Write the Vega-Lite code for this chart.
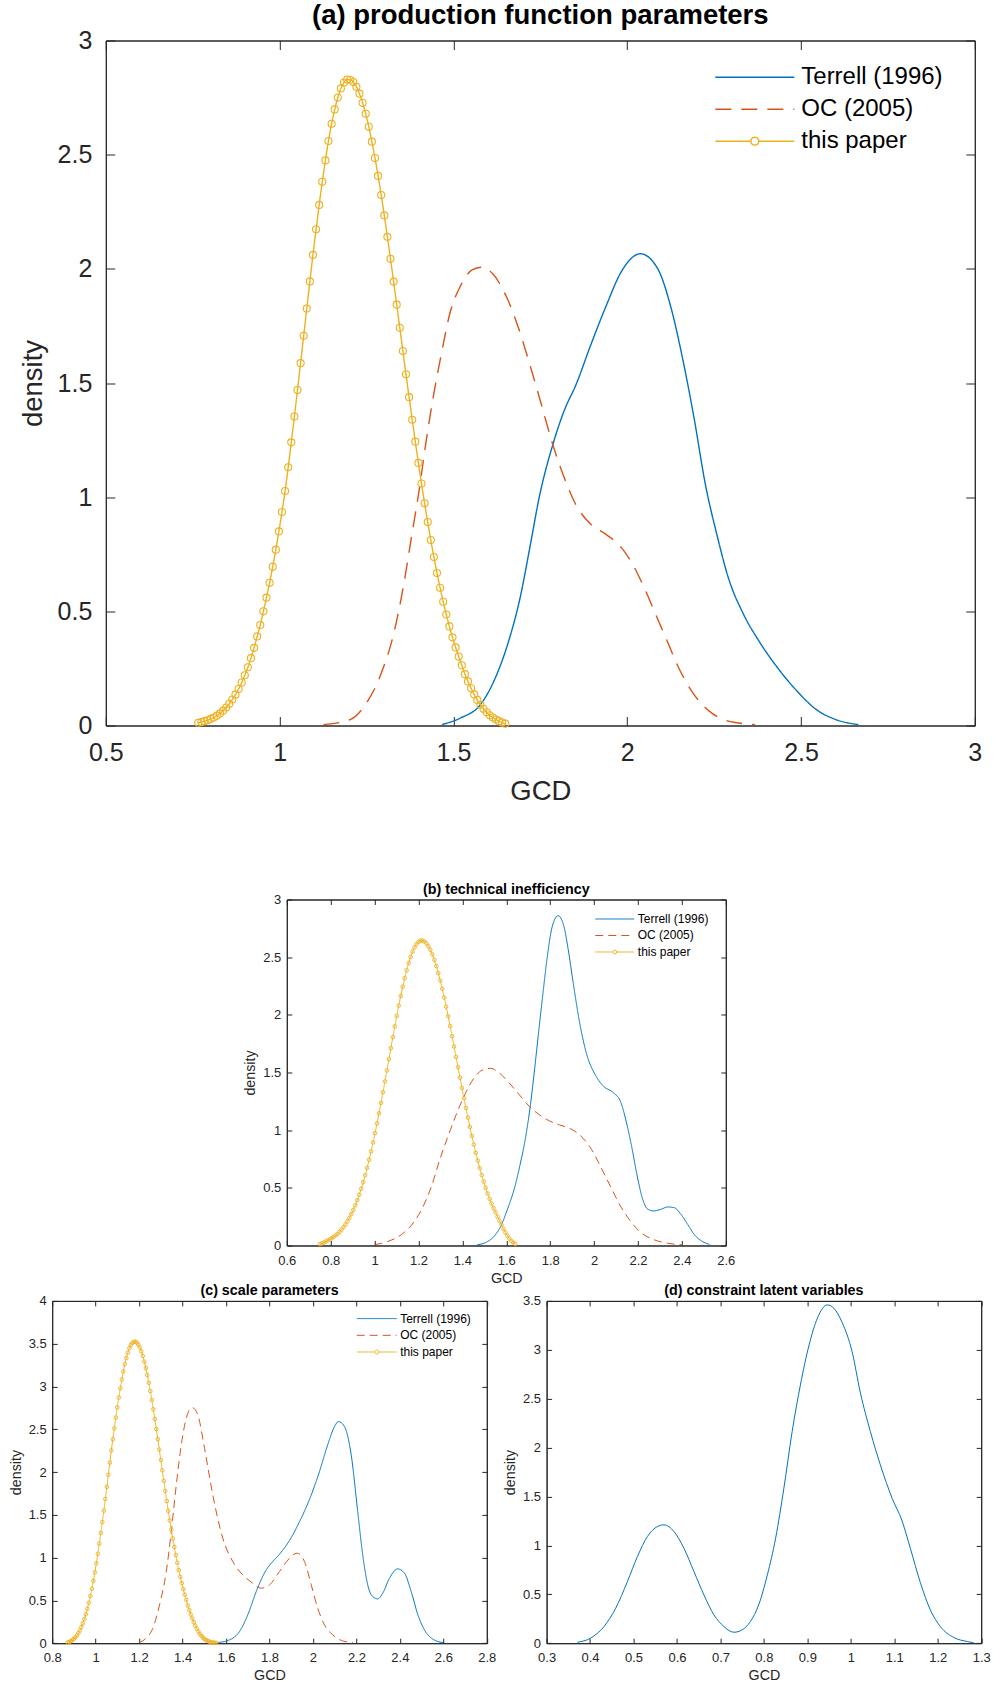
{
"$schema": "https://vega.github.io/schema/vega-lite/v6.json",
"background": "white",
"padding": {"left": 1.8, "top": 1.5, "right": 0, "bottom": 0},
"config": {
  "font": "Liberation Sans",
  "view": {"stroke": "#262626", "strokeWidth": 1},
  "axis": {"grid": false, "domainColor": "#262626", "tickColor": "#262626", "labelColor": "#262626", "titleColor": "#262626", "labelFont": "Liberation Sans", "titleFont": "Liberation Sans", "titleFontWeight": "normal", "labelFlush": false, "labelOverlap": false, "domainWidth": 1, "tickWidth": 1},
  "legend": {"labelFont": "Liberation Sans", "labelColor": "#000000"},
  "title": {"font": "Liberation Sans", "fontWeight": "bold", "color": "#000000", "anchor": "middle", "frame": "group"}
},
"datasets": {
"a": [
{"series":"Terrell (1996)","gcd":1.467,"density":0.004},{"series":"Terrell (1996)","gcd":1.522,"density":0.034},{"series":"Terrell (1996)","gcd":1.577,"density":0.09},{"series":"Terrell (1996)","gcd":1.621,"density":0.21},{"series":"Terrell (1996)","gcd":1.659,"density":0.37},{"series":"Terrell (1996)","gcd":1.692,"density":0.56},{"series":"Terrell (1996)","gcd":1.72,"density":0.78},{"series":"Terrell (1996)","gcd":1.747,"density":1.0},{"series":"Terrell (1996)","gcd":1.786,"density":1.23},{"series":"Terrell (1996)","gcd":1.819,"density":1.38},{"series":"Terrell (1996)","gcd":1.852,"density":1.49},{"series":"Terrell (1996)","gcd":1.896,"density":1.67},{"series":"Terrell (1996)","gcd":1.94,"density":1.84},{"series":"Terrell (1996)","gcd":1.984,"density":1.99},{"series":"Terrell (1996)","gcd":2.038,"density":2.066},{"series":"Terrell (1996)","gcd":2.088,"density":2.0},{"series":"Terrell (1996)","gcd":2.126,"density":1.83},{"series":"Terrell (1996)","gcd":2.159,"density":1.61},{"series":"Terrell (1996)","gcd":2.192,"density":1.35},{"series":"Terrell (1996)","gcd":2.225,"density":1.055},{"series":"Terrell (1996)","gcd":2.258,"density":0.836},{"series":"Terrell (1996)","gcd":2.291,"density":0.647},{"series":"Terrell (1996)","gcd":2.335,"density":0.486},{"series":"Terrell (1996)","gcd":2.379,"density":0.37},{"series":"Terrell (1996)","gcd":2.434,"density":0.25},{"series":"Terrell (1996)","gcd":2.489,"density":0.15},{"series":"Terrell (1996)","gcd":2.544,"density":0.07},{"series":"Terrell (1996)","gcd":2.6,"density":0.026},{"series":"Terrell (1996)","gcd":2.665,"density":0.004},
{"series":"OC (2005)","gcd":1.126,"density":0.004},{"series":"OC (2005)","gcd":1.203,"density":0.026},{"series":"OC (2005)","gcd":1.247,"density":0.092},{"series":"OC (2005)","gcd":1.291,"density":0.223},{"series":"OC (2005)","gcd":1.33,"density":0.413},{"series":"OC (2005)","gcd":1.357,"density":0.617},{"series":"OC (2005)","gcd":1.379,"density":0.822},{"series":"OC (2005)","gcd":1.401,"density":1.026},{"series":"OC (2005)","gcd":1.423,"density":1.26},{"series":"OC (2005)","gcd":1.445,"density":1.464},{"series":"OC (2005)","gcd":1.467,"density":1.64},{"series":"OC (2005)","gcd":1.489,"density":1.8},{"series":"OC (2005)","gcd":1.522,"density":1.93},{"series":"OC (2005)","gcd":1.555,"density":1.997},{"series":"OC (2005)","gcd":1.582,"density":2.007},{"series":"OC (2005)","gcd":1.615,"density":1.975},{"series":"OC (2005)","gcd":1.654,"density":1.873},{"series":"OC (2005)","gcd":1.687,"density":1.742},{"series":"OC (2005)","gcd":1.72,"density":1.58},{"series":"OC (2005)","gcd":1.753,"density":1.406},{"series":"OC (2005)","gcd":1.786,"density":1.23},{"series":"OC (2005)","gcd":1.819,"density":1.085},{"series":"OC (2005)","gcd":1.852,"density":0.968},{"series":"OC (2005)","gcd":1.896,"density":0.88},{"series":"OC (2005)","gcd":1.94,"density":0.836},{"series":"OC (2005)","gcd":1.984,"density":0.778},{"series":"OC (2005)","gcd":2.016,"density":0.705},{"series":"OC (2005)","gcd":2.049,"density":0.603},{"series":"OC (2005)","gcd":2.082,"density":0.486},{"series":"OC (2005)","gcd":2.115,"density":0.37},{"series":"OC (2005)","gcd":2.148,"density":0.253},{"series":"OC (2005)","gcd":2.192,"density":0.136},{"series":"OC (2005)","gcd":2.236,"density":0.063},{"series":"OC (2005)","gcd":2.291,"density":0.019},{"series":"OC (2005)","gcd":2.368,"density":0.004},
{"series":"this paper","gcd":0.766,"density":0.012},{"series":"this paper","gcd":0.7749,"density":0.015},{"series":"this paper","gcd":0.7838,"density":0.019},{"series":"this paper","gcd":0.7928,"density":0.023},{"series":"this paper","gcd":0.8017,"density":0.029},{"series":"this paper","gcd":0.8106,"density":0.035},{"series":"this paper","gcd":0.8195,"density":0.043},{"series":"this paper","gcd":0.8284,"density":0.053},{"series":"this paper","gcd":0.8374,"density":0.065},{"series":"this paper","gcd":0.8463,"density":0.079},{"series":"this paper","gcd":0.8552,"density":0.095},{"series":"this paper","gcd":0.8641,"density":0.114},{"series":"this paper","gcd":0.873,"density":0.135},{"series":"this paper","gcd":0.882,"density":0.16},{"series":"this paper","gcd":0.8909,"density":0.188},{"series":"this paper","gcd":0.8998,"density":0.22},{"series":"this paper","gcd":0.9087,"density":0.255},{"series":"this paper","gcd":0.9176,"density":0.295},{"series":"this paper","gcd":0.9266,"density":0.34},{"series":"this paper","gcd":0.9355,"density":0.39},{"series":"this paper","gcd":0.9444,"density":0.44},{"series":"this paper","gcd":0.9533,"density":0.5},{"series":"this paper","gcd":0.9622,"density":0.56},{"series":"this paper","gcd":0.9712,"density":0.625},{"series":"this paper","gcd":0.9801,"density":0.695},{"series":"this paper","gcd":0.989,"density":0.77},{"series":"this paper","gcd":0.9979,"density":0.85},{"series":"this paper","gcd":1.0068,"density":0.935},{"series":"this paper","gcd":1.0158,"density":1.027},{"series":"this paper","gcd":1.0247,"density":1.131},{"series":"this paper","gcd":1.0336,"density":1.24},{"series":"this paper","gcd":1.0425,"density":1.353},{"series":"this paper","gcd":1.0514,"density":1.469},{"series":"this paper","gcd":1.0604,"density":1.587},{"series":"this paper","gcd":1.0693,"density":1.707},{"series":"this paper","gcd":1.0782,"density":1.826},{"series":"this paper","gcd":1.0871,"density":1.945},{"series":"this paper","gcd":1.096,"density":2.061},{"series":"this paper","gcd":1.105,"density":2.173},{"series":"this paper","gcd":1.1139,"density":2.28},{"series":"this paper","gcd":1.1228,"density":2.381},{"series":"this paper","gcd":1.1317,"density":2.475},{"series":"this paper","gcd":1.1406,"density":2.56},{"series":"this paper","gcd":1.1496,"density":2.635},{"series":"this paper","gcd":1.1585,"density":2.698},{"series":"this paper","gcd":1.1674,"density":2.75},{"series":"this paper","gcd":1.1763,"density":2.79},{"series":"this paper","gcd":1.1852,"density":2.816},{"series":"this paper","gcd":1.1942,"density":2.829},{"series":"this paper","gcd":1.2031,"density":2.828},{"series":"this paper","gcd":1.212,"density":2.818},{"series":"this paper","gcd":1.2209,"density":2.797},{"series":"this paper","gcd":1.2298,"density":2.767},{"series":"this paper","gcd":1.2388,"density":2.727},{"series":"this paper","gcd":1.2477,"density":2.679},{"series":"this paper","gcd":1.2566,"density":2.622},{"series":"this paper","gcd":1.2655,"density":2.557},{"series":"this paper","gcd":1.2744,"density":2.485},{"series":"this paper","gcd":1.2834,"density":2.407},{"series":"this paper","gcd":1.2923,"density":2.323},{"series":"this paper","gcd":1.3012,"density":2.234},{"series":"this paper","gcd":1.3101,"density":2.14},{"series":"this paper","gcd":1.319,"density":2.044},{"series":"this paper","gcd":1.328,"density":1.944},{"series":"this paper","gcd":1.3369,"density":1.843},{"series":"this paper","gcd":1.3458,"density":1.742},{"series":"this paper","gcd":1.3547,"density":1.64},{"series":"this paper","gcd":1.3636,"density":1.538},{"series":"this paper","gcd":1.3726,"density":1.438},{"series":"this paper","gcd":1.3815,"density":1.339},{"series":"this paper","gcd":1.3904,"density":1.243},{"series":"this paper","gcd":1.3993,"density":1.15},{"series":"this paper","gcd":1.4082,"density":1.06},{"series":"this paper","gcd":1.4172,"density":0.973},{"series":"this paper","gcd":1.4261,"density":0.891},{"series":"this paper","gcd":1.435,"density":0.812},{"series":"this paper","gcd":1.4439,"density":0.738},{"series":"this paper","gcd":1.4528,"density":0.668},{"series":"this paper","gcd":1.4618,"density":0.603},{"series":"this paper","gcd":1.4707,"density":0.542},{"series":"this paper","gcd":1.4796,"density":0.486},{"series":"this paper","gcd":1.4885,"density":0.434},{"series":"this paper","gcd":1.4974,"density":0.386},{"series":"this paper","gcd":1.5064,"density":0.342},{"series":"this paper","gcd":1.5153,"density":0.302},{"series":"this paper","gcd":1.5242,"density":0.264},{"series":"this paper","gcd":1.5331,"density":0.225},{"series":"this paper","gcd":1.542,"density":0.193},{"series":"this paper","gcd":1.551,"density":0.163},{"series":"this paper","gcd":1.5599,"density":0.136},{"series":"this paper","gcd":1.5688,"density":0.112},{"series":"this paper","gcd":1.5777,"density":0.091},{"series":"this paper","gcd":1.5866,"density":0.073},{"series":"this paper","gcd":1.5956,"density":0.058},{"series":"this paper","gcd":1.6045,"density":0.045},{"series":"this paper","gcd":1.6134,"density":0.035},{"series":"this paper","gcd":1.6223,"density":0.026},{"series":"this paper","gcd":1.6312,"density":0.019},{"series":"this paper","gcd":1.6402,"density":0.013},{"series":"this paper","gcd":1.6491,"density":0.008}
],
"b": [
{"series":"Terrell (1996)","gcd":1.467,"density":0.006},{"series":"Terrell (1996)","gcd":1.506,"density":0.026},{"series":"Terrell (1996)","gcd":1.544,"density":0.079},{"series":"Terrell (1996)","gcd":1.575,"density":0.167},{"series":"Terrell (1996)","gcd":1.605,"density":0.313},{"series":"Terrell (1996)","gcd":1.636,"density":0.489},{"series":"Terrell (1996)","gcd":1.662,"density":0.694},{"series":"Terrell (1996)","gcd":1.687,"density":0.928},{"series":"Terrell (1996)","gcd":1.71,"density":1.22},{"series":"Terrell (1996)","gcd":1.728,"density":1.513},{"series":"Terrell (1996)","gcd":1.748,"density":1.864},{"series":"Terrell (1996)","gcd":1.767,"density":2.186},{"series":"Terrell (1996)","gcd":1.787,"density":2.508},{"series":"Terrell (1996)","gcd":1.81,"density":2.771},{"series":"Terrell (1996)","gcd":1.836,"density":2.859},{"series":"Terrell (1996)","gcd":1.862,"density":2.771},{"series":"Terrell (1996)","gcd":1.882,"density":2.567},{"series":"Terrell (1996)","gcd":1.905,"density":2.274},{"series":"Terrell (1996)","gcd":1.935,"density":1.923},{"series":"Terrell (1996)","gcd":1.966,"density":1.659},{"series":"Terrell (1996)","gcd":2.004,"density":1.484},{"series":"Terrell (1996)","gcd":2.043,"density":1.381},{"series":"Terrell (1996)","gcd":2.089,"density":1.323},{"series":"Terrell (1996)","gcd":2.12,"density":1.25},{"series":"Terrell (1996)","gcd":2.15,"density":1.045},{"series":"Terrell (1996)","gcd":2.173,"density":0.84},{"series":"Terrell (1996)","gcd":2.196,"density":0.606},{"series":"Terrell (1996)","gcd":2.219,"density":0.416},{"series":"Terrell (1996)","gcd":2.242,"density":0.319},{"series":"Terrell (1996)","gcd":2.27,"density":0.3},{"series":"Terrell (1996)","gcd":2.304,"density":0.313},{"series":"Terrell (1996)","gcd":2.335,"density":0.334},{"series":"Terrell (1996)","gcd":2.365,"density":0.328},{"series":"Terrell (1996)","gcd":2.396,"density":0.269},{"series":"Terrell (1996)","gcd":2.427,"density":0.181},{"series":"Terrell (1996)","gcd":2.457,"density":0.094},{"series":"Terrell (1996)","gcd":2.488,"density":0.041},{"series":"Terrell (1996)","gcd":2.526,"density":0.009},
{"series":"OC (2005)","gcd":0.999,"density":0.006},{"series":"OC (2005)","gcd":1.06,"density":0.035},{"series":"OC (2005)","gcd":1.122,"density":0.094},{"series":"OC (2005)","gcd":1.176,"density":0.196},{"series":"OC (2005)","gcd":1.222,"density":0.342},{"series":"OC (2005)","gcd":1.26,"density":0.518},{"series":"OC (2005)","gcd":1.298,"density":0.752},{"series":"OC (2005)","gcd":1.337,"density":0.96},{"series":"OC (2005)","gcd":1.375,"density":1.15},{"series":"OC (2005)","gcd":1.414,"density":1.32},{"series":"OC (2005)","gcd":1.452,"density":1.45},{"series":"OC (2005)","gcd":1.49,"density":1.52},{"series":"OC (2005)","gcd":1.529,"density":1.536},{"series":"OC (2005)","gcd":1.567,"density":1.498},{"series":"OC (2005)","gcd":1.613,"density":1.41},{"series":"OC (2005)","gcd":1.659,"density":1.308},{"series":"OC (2005)","gcd":1.705,"density":1.206},{"series":"OC (2005)","gcd":1.751,"density":1.133},{"series":"OC (2005)","gcd":1.797,"density":1.08},{"series":"OC (2005)","gcd":1.843,"density":1.045},{"series":"OC (2005)","gcd":1.889,"density":1.016},{"series":"OC (2005)","gcd":1.935,"density":0.957},{"series":"OC (2005)","gcd":1.981,"density":0.855},{"series":"OC (2005)","gcd":2.027,"density":0.694},{"series":"OC (2005)","gcd":2.073,"density":0.518},{"series":"OC (2005)","gcd":2.12,"density":0.342},{"series":"OC (2005)","gcd":2.166,"density":0.211},{"series":"OC (2005)","gcd":2.212,"density":0.114},{"series":"OC (2005)","gcd":2.273,"density":0.05},{"series":"OC (2005)","gcd":2.334,"density":0.02},{"series":"OC (2005)","gcd":2.403,"density":0.006},
{"series":"this paper","gcd":0.75,"density":0.012},{"series":"this paper","gcd":0.759,"density":0.018},{"series":"this paper","gcd":0.768,"density":0.025},{"series":"this paper","gcd":0.777,"density":0.034},{"series":"this paper","gcd":0.786,"density":0.044},{"series":"this paper","gcd":0.795,"density":0.053},{"series":"this paper","gcd":0.804,"density":0.063},{"series":"this paper","gcd":0.813,"density":0.074},{"series":"this paper","gcd":0.822,"density":0.087},{"series":"this paper","gcd":0.831,"density":0.101},{"series":"this paper","gcd":0.84,"density":0.118},{"series":"this paper","gcd":0.849,"density":0.137},{"series":"this paper","gcd":0.858,"density":0.158},{"series":"this paper","gcd":0.867,"density":0.182},{"series":"this paper","gcd":0.876,"density":0.209},{"series":"this paper","gcd":0.885,"density":0.239},{"series":"this paper","gcd":0.894,"density":0.272},{"series":"this paper","gcd":0.903,"density":0.308},{"series":"this paper","gcd":0.912,"density":0.348},{"series":"this paper","gcd":0.921,"density":0.392},{"series":"this paper","gcd":0.93,"density":0.44},{"series":"this paper","gcd":0.939,"density":0.492},{"series":"this paper","gcd":0.948,"density":0.549},{"series":"this paper","gcd":0.957,"density":0.609},{"series":"this paper","gcd":0.966,"density":0.674},{"series":"this paper","gcd":0.975,"density":0.743},{"series":"this paper","gcd":0.984,"density":0.816},{"series":"this paper","gcd":0.993,"density":0.893},{"series":"this paper","gcd":1.002,"density":0.974},{"series":"this paper","gcd":1.011,"density":1.058},{"series":"this paper","gcd":1.02,"density":1.146},{"series":"this paper","gcd":1.029,"density":1.236},{"series":"this paper","gcd":1.038,"density":1.328},{"series":"this paper","gcd":1.047,"density":1.423},{"series":"this paper","gcd":1.056,"density":1.518},{"series":"this paper","gcd":1.065,"density":1.615},{"series":"this paper","gcd":1.074,"density":1.711},{"series":"this paper","gcd":1.083,"density":1.806},{"series":"this paper","gcd":1.092,"density":1.9},{"series":"this paper","gcd":1.101,"density":1.991},{"series":"this paper","gcd":1.11,"density":2.08},{"series":"this paper","gcd":1.119,"density":2.164},{"series":"this paper","gcd":1.128,"density":2.244},{"series":"this paper","gcd":1.137,"density":2.318},{"series":"this paper","gcd":1.146,"density":2.386},{"series":"this paper","gcd":1.155,"density":2.448},{"series":"this paper","gcd":1.164,"density":2.502},{"series":"this paper","gcd":1.173,"density":2.548},{"series":"this paper","gcd":1.182,"density":2.585},{"series":"this paper","gcd":1.191,"density":2.614},{"series":"this paper","gcd":1.2,"density":2.633},{"series":"this paper","gcd":1.209,"density":2.644},{"series":"this paper","gcd":1.218,"density":2.644},{"series":"this paper","gcd":1.227,"density":2.636},{"series":"this paper","gcd":1.236,"density":2.62},{"series":"this paper","gcd":1.245,"density":2.596},{"series":"this paper","gcd":1.254,"density":2.564},{"series":"this paper","gcd":1.263,"density":2.524},{"series":"this paper","gcd":1.272,"density":2.477},{"series":"this paper","gcd":1.281,"density":2.423},{"series":"this paper","gcd":1.29,"density":2.363},{"series":"this paper","gcd":1.299,"density":2.297},{"series":"this paper","gcd":1.308,"density":2.226},{"series":"this paper","gcd":1.317,"density":2.15},{"series":"this paper","gcd":1.326,"density":2.071},{"series":"this paper","gcd":1.335,"density":1.988},{"series":"this paper","gcd":1.344,"density":1.902},{"series":"this paper","gcd":1.353,"density":1.814},{"series":"this paper","gcd":1.362,"density":1.725},{"series":"this paper","gcd":1.371,"density":1.635},{"series":"this paper","gcd":1.38,"density":1.545},{"series":"this paper","gcd":1.389,"density":1.455},{"series":"this paper","gcd":1.398,"density":1.366},{"series":"this paper","gcd":1.407,"density":1.278},{"series":"this paper","gcd":1.416,"density":1.193},{"series":"this paper","gcd":1.425,"density":1.109},{"series":"this paper","gcd":1.434,"density":1.028},{"series":"this paper","gcd":1.443,"density":0.95},{"series":"this paper","gcd":1.452,"density":0.875},{"series":"this paper","gcd":1.461,"density":0.804},{"series":"this paper","gcd":1.47,"density":0.736},{"series":"this paper","gcd":1.479,"density":0.671},{"series":"this paper","gcd":1.488,"density":0.611},{"series":"this paper","gcd":1.497,"density":0.554},{"series":"this paper","gcd":1.506,"density":0.5},{"series":"this paper","gcd":1.515,"density":0.451},{"series":"this paper","gcd":1.524,"density":0.405},{"series":"this paper","gcd":1.533,"density":0.363},{"series":"this paper","gcd":1.542,"density":0.324},{"series":"this paper","gcd":1.551,"density":0.288},{"series":"this paper","gcd":1.56,"density":0.25},{"series":"this paper","gcd":1.569,"density":0.215},{"series":"this paper","gcd":1.578,"density":0.18},{"series":"this paper","gcd":1.587,"density":0.145},{"series":"this paper","gcd":1.596,"density":0.113},{"series":"this paper","gcd":1.605,"density":0.085},{"series":"this paper","gcd":1.614,"density":0.06},{"series":"this paper","gcd":1.623,"density":0.04},{"series":"this paper","gcd":1.632,"density":0.025},{"series":"this paper","gcd":1.641,"density":0.013}
],
"c": [
{"series":"Terrell (1996)","gcd":1.562,"density":0.008},{"series":"Terrell (1996)","gcd":1.616,"density":0.039},{"series":"Terrell (1996)","gcd":1.662,"density":0.136},{"series":"Terrell (1996)","gcd":1.7,"density":0.331},{"series":"Terrell (1996)","gcd":1.739,"density":0.604},{"series":"Terrell (1996)","gcd":1.785,"density":0.857},{"series":"Terrell (1996)","gcd":1.808,"density":0.935},{"series":"Terrell (1996)","gcd":1.846,"density":1.04},{"series":"Terrell (1996)","gcd":1.892,"density":1.2},{"series":"Terrell (1996)","gcd":1.938,"density":1.42},{"series":"Terrell (1996)","gcd":1.984,"density":1.68},{"series":"Terrell (1996)","gcd":2.03,"density":2.006},{"series":"Terrell (1996)","gcd":2.068,"density":2.32},{"series":"Terrell (1996)","gcd":2.099,"density":2.53},{"series":"Terrell (1996)","gcd":2.117,"density":2.59},{"series":"Terrell (1996)","gcd":2.145,"density":2.532},{"series":"Terrell (1996)","gcd":2.176,"density":2.2},{"series":"Terrell (1996)","gcd":2.206,"density":1.538},{"series":"Terrell (1996)","gcd":2.229,"density":1.032},{"series":"Terrell (1996)","gcd":2.252,"density":0.682},{"series":"Terrell (1996)","gcd":2.275,"density":0.545},{"series":"Terrell (1996)","gcd":2.298,"density":0.518},{"series":"Terrell (1996)","gcd":2.321,"density":0.584},{"series":"Terrell (1996)","gcd":2.352,"density":0.759},{"series":"Terrell (1996)","gcd":2.39,"density":0.868},{"series":"Terrell (1996)","gcd":2.421,"density":0.818},{"series":"Terrell (1996)","gcd":2.452,"density":0.604},{"series":"Terrell (1996)","gcd":2.483,"density":0.331},{"series":"Terrell (1996)","gcd":2.513,"density":0.156},{"series":"Terrell (1996)","gcd":2.552,"density":0.047},{"series":"Terrell (1996)","gcd":2.605,"density":0.004},
{"series":"OC (2005)","gcd":1.199,"density":0.008},{"series":"OC (2005)","gcd":1.232,"density":0.058},{"series":"OC (2005)","gcd":1.263,"density":0.175},{"series":"OC (2005)","gcd":1.294,"density":0.448},{"series":"OC (2005)","gcd":1.325,"density":0.837},{"series":"OC (2005)","gcd":1.348,"density":1.305},{"series":"OC (2005)","gcd":1.371,"density":1.85},{"series":"OC (2005)","gcd":1.394,"density":2.317},{"series":"OC (2005)","gcd":1.417,"density":2.629},{"series":"OC (2005)","gcd":1.444,"density":2.754},{"series":"OC (2005)","gcd":1.47,"density":2.668},{"series":"OC (2005)","gcd":1.501,"density":2.278},{"series":"OC (2005)","gcd":1.539,"density":1.733},{"series":"OC (2005)","gcd":1.585,"density":1.227},{"series":"OC (2005)","gcd":1.631,"density":0.954},{"series":"OC (2005)","gcd":1.677,"density":0.798},{"series":"OC (2005)","gcd":1.723,"density":0.701},{"series":"OC (2005)","gcd":1.762,"density":0.643},{"series":"OC (2005)","gcd":1.8,"density":0.682},{"series":"OC (2005)","gcd":1.846,"density":0.837},{"series":"OC (2005)","gcd":1.892,"density":0.993},{"series":"OC (2005)","gcd":1.927,"density":1.052},{"series":"OC (2005)","gcd":1.961,"density":0.954},{"series":"OC (2005)","gcd":1.992,"density":0.682},{"series":"OC (2005)","gcd":2.022,"density":0.409},{"series":"OC (2005)","gcd":2.053,"density":0.214},{"series":"OC (2005)","gcd":2.091,"density":0.097},{"series":"OC (2005)","gcd":2.137,"density":0.027},{"series":"OC (2005)","gcd":2.183,"density":0.008},
{"series":"this paper","gcd":0.872,"density":0.01},{"series":"this paper","gcd":0.8789,"density":0.016},{"series":"this paper","gcd":0.8858,"density":0.024},{"series":"this paper","gcd":0.8927,"density":0.035},{"series":"this paper","gcd":0.8996,"density":0.05},{"series":"this paper","gcd":0.9065,"density":0.068},{"series":"this paper","gcd":0.9134,"density":0.09},{"series":"this paper","gcd":0.9203,"density":0.117},{"series":"this paper","gcd":0.9272,"density":0.149},{"series":"this paper","gcd":0.9341,"density":0.187},{"series":"this paper","gcd":0.941,"density":0.231},{"series":"this paper","gcd":0.9479,"density":0.281},{"series":"this paper","gcd":0.9548,"density":0.338},{"series":"this paper","gcd":0.9617,"density":0.402},{"series":"this paper","gcd":0.9686,"density":0.473},{"series":"this paper","gcd":0.9755,"density":0.551},{"series":"this paper","gcd":0.9824,"density":0.636},{"series":"this paper","gcd":0.9893,"density":0.728},{"series":"this paper","gcd":0.9962,"density":0.827},{"series":"this paper","gcd":1.0031,"density":0.933},{"series":"this paper","gcd":1.01,"density":1.045},{"series":"this paper","gcd":1.0169,"density":1.163},{"series":"this paper","gcd":1.0238,"density":1.287},{"series":"this paper","gcd":1.0307,"density":1.416},{"series":"this paper","gcd":1.0376,"density":1.549},{"series":"this paper","gcd":1.0445,"density":1.686},{"series":"this paper","gcd":1.0514,"density":1.826},{"series":"this paper","gcd":1.0583,"density":1.968},{"series":"this paper","gcd":1.0652,"density":2.11},{"series":"this paper","gcd":1.0721,"density":2.252},{"series":"this paper","gcd":1.079,"density":2.383},{"series":"this paper","gcd":1.0859,"density":2.511},{"series":"this paper","gcd":1.0928,"density":2.636},{"series":"this paper","gcd":1.0997,"density":2.756},{"series":"this paper","gcd":1.1066,"density":2.871},{"series":"this paper","gcd":1.1135,"density":2.98},{"series":"this paper","gcd":1.1204,"density":3.082},{"series":"this paper","gcd":1.1273,"density":3.175},{"series":"this paper","gcd":1.1342,"density":3.259},{"series":"this paper","gcd":1.1411,"density":3.332},{"series":"this paper","gcd":1.148,"density":3.395},{"series":"this paper","gcd":1.1549,"density":3.446},{"series":"this paper","gcd":1.1618,"density":3.485},{"series":"this paper","gcd":1.1687,"density":3.51},{"series":"this paper","gcd":1.1756,"density":3.523},{"series":"this paper","gcd":1.1825,"density":3.524},{"series":"this paper","gcd":1.1894,"density":3.512},{"series":"this paper","gcd":1.1963,"density":3.489},{"series":"this paper","gcd":1.2032,"density":3.455},{"series":"this paper","gcd":1.2101,"density":3.41},{"series":"this paper","gcd":1.217,"density":3.355},{"series":"this paper","gcd":1.2239,"density":3.29},{"series":"this paper","gcd":1.2308,"density":3.216},{"series":"this paper","gcd":1.2377,"density":3.133},{"series":"this paper","gcd":1.2446,"density":3.043},{"series":"this paper","gcd":1.2515,"density":2.946},{"series":"this paper","gcd":1.2584,"density":2.842},{"series":"this paper","gcd":1.2653,"density":2.733},{"series":"this paper","gcd":1.2722,"density":2.62},{"series":"this paper","gcd":1.2791,"density":2.503},{"series":"this paper","gcd":1.286,"density":2.384},{"series":"this paper","gcd":1.2929,"density":2.263},{"series":"this paper","gcd":1.2998,"density":2.141},{"series":"this paper","gcd":1.3067,"density":2.019},{"series":"this paper","gcd":1.3136,"density":1.898},{"series":"this paper","gcd":1.3205,"density":1.779},{"series":"this paper","gcd":1.3274,"density":1.661},{"series":"this paper","gcd":1.3343,"density":1.547},{"series":"this paper","gcd":1.3412,"density":1.435},{"series":"this paper","gcd":1.3481,"density":1.327},{"series":"this paper","gcd":1.355,"density":1.224},{"series":"this paper","gcd":1.3619,"density":1.124},{"series":"this paper","gcd":1.3688,"density":1.03},{"series":"this paper","gcd":1.3757,"density":0.94},{"series":"this paper","gcd":1.3826,"density":0.855},{"series":"this paper","gcd":1.3895,"density":0.776},{"series":"this paper","gcd":1.3964,"density":0.701},{"series":"this paper","gcd":1.4033,"density":0.632},{"series":"this paper","gcd":1.4102,"density":0.568},{"series":"this paper","gcd":1.4171,"density":0.508},{"series":"this paper","gcd":1.424,"density":0.44},{"series":"this paper","gcd":1.4309,"density":0.385},{"series":"this paper","gcd":1.4378,"density":0.335},{"series":"this paper","gcd":1.4447,"density":0.29},{"series":"this paper","gcd":1.4516,"density":0.245},{"series":"this paper","gcd":1.4585,"density":0.205},{"series":"this paper","gcd":1.4654,"density":0.17},{"series":"this paper","gcd":1.4723,"density":0.138},{"series":"this paper","gcd":1.4792,"density":0.11},{"series":"this paper","gcd":1.4861,"density":0.087},{"series":"this paper","gcd":1.493,"density":0.067},{"series":"this paper","gcd":1.4999,"density":0.051},{"series":"this paper","gcd":1.5068,"density":0.038},{"series":"this paper","gcd":1.5137,"density":0.028},{"series":"this paper","gcd":1.5206,"density":0.02},{"series":"this paper","gcd":1.5275,"density":0.014},{"series":"this paper","gcd":1.5344,"density":0.01},{"series":"this paper","gcd":1.5413,"density":0.007},{"series":"this paper","gcd":1.5482,"density":0.005},{"series":"this paper","gcd":1.5551,"density":0.004}
],
"d": [
{"series":"Terrell (1996)","gcd":0.371,"density":0.01},{"series":"Terrell (1996)","gcd":0.401,"density":0.051},{"series":"Terrell (1996)","gcd":0.432,"density":0.17},{"series":"Terrell (1996)","gcd":0.459,"density":0.358},{"series":"Terrell (1996)","gcd":0.486,"density":0.631},{"series":"Terrell (1996)","gcd":0.509,"density":0.886},{"series":"Terrell (1996)","gcd":0.532,"density":1.091},{"series":"Terrell (1996)","gcd":0.555,"density":1.193},{"series":"Terrell (1996)","gcd":0.57,"density":1.21},{"series":"Terrell (1996)","gcd":0.593,"density":1.142},{"series":"Terrell (1996)","gcd":0.616,"density":0.971},{"series":"Terrell (1996)","gcd":0.639,"density":0.733},{"series":"Terrell (1996)","gcd":0.662,"density":0.494},{"series":"Terrell (1996)","gcd":0.685,"density":0.29},{"series":"Terrell (1996)","gcd":0.708,"density":0.17},{"series":"Terrell (1996)","gcd":0.731,"density":0.112},{"series":"Terrell (1996)","gcd":0.75,"density":0.136},{"series":"Terrell (1996)","gcd":0.769,"density":0.222},{"series":"Terrell (1996)","gcd":0.788,"density":0.392},{"series":"Terrell (1996)","gcd":0.808,"density":0.699},{"series":"Terrell (1996)","gcd":0.827,"density":1.074},{"series":"Terrell (1996)","gcd":0.846,"density":1.585},{"series":"Terrell (1996)","gcd":0.865,"density":2.164},{"series":"Terrell (1996)","gcd":0.884,"density":2.641},{"series":"Terrell (1996)","gcd":0.904,"density":3.05},{"series":"Terrell (1996)","gcd":0.923,"density":3.323},{"series":"Terrell (1996)","gcd":0.946,"density":3.459},{"series":"Terrell (1996)","gcd":0.961,"density":3.425},{"series":"Terrell (1996)","gcd":0.98,"density":3.28},{"series":"Terrell (1996)","gcd":1.003,"density":2.98},{"series":"Terrell (1996)","gcd":1.022,"density":2.56},{"series":"Terrell (1996)","gcd":1.045,"density":2.164},{"series":"Terrell (1996)","gcd":1.068,"density":1.823},{"series":"Terrell (1996)","gcd":1.095,"density":1.483},{"series":"Terrell (1996)","gcd":1.118,"density":1.25},{"series":"Terrell (1996)","gcd":1.137,"density":0.97},{"series":"Terrell (1996)","gcd":1.16,"density":0.62},{"series":"Terrell (1996)","gcd":1.183,"density":0.34},{"series":"Terrell (1996)","gcd":1.206,"density":0.17},{"series":"Terrell (1996)","gcd":1.237,"density":0.058},{"series":"Terrell (1996)","gcd":1.268,"density":0.017},{"series":"Terrell (1996)","gcd":1.283,"density":0.003}
]
},
"columns": 1,
"align": "none",
"spacing": 76,
"resolve": {"scale": {"x": "independent", "y": "independent", "color": "independent", "strokeDash": "independent"}},
"concat": [
  {
    "hconcat": [
      {"width": 16.9, "height": 1, "data": {"values": [{"k": 0}]}, "mark": {"type": "point", "opacity": 0, "size": 1}, "view": {"stroke": null}},
      {
        "width": 869, "height": 685,
        "title": {"text": "(a) production function parameters", "fontSize": 27.5, "offset": -1.2},
        "data": {"name": "a"},
        "resolve": {"axis": {"x": "independent", "y": "independent"}},
        "layer": [
          {
            "mark": {"type": "line", "strokeWidth": 1.4, "interpolate": "monotone"},
            "encoding": {
              "x": {"field": "gcd", "type": "quantitative", "scale": {"domain": [0.5, 3], "nice": false, "zero": false}, "axis": {"values": [0.5, 1, 1.5, 2, 2.5, 3], "format": "~g", "title": "GCD", "labelFontSize": 25, "titleFontSize": 27.5, "tickSize": -9, "labelPadding": 23.7, "titlePadding": 12}},
              "y": {"field": "density", "type": "quantitative", "scale": {"domain": [0, 3], "nice": false, "zero": false}, "axis": {"values": [0, 0.5, 1, 1.5, 2, 2.5, 3], "format": "~g", "title": "density", "labelFontSize": 25, "titleFontSize": 27.5, "tickSize": -9, "labelPadding": 23, "titlePadding": 9.7}},
              "color": {"field": "series", "type": "nominal", "scale": {"domain": ["Terrell (1996)", "OC (2005)", "this paper"], "range": ["#0072BD", "#D95319", "#EDB120"]},
                "legend": {"title": null, "orient": "none", "legendX": 608.5, "legendY": 24.7, "labelFontSize": 24, "symbolSize": 6241, "symbolStrokeWidth": 1.4, "labelOffset": 6, "rowPadding": 8, "clipHeight": 24, "padding": 0, "symbolType": "M-1,0H1", "encode": {"symbols": {"update": {"shape": {"signal": "datum.value === 'this paper' ? 'M-1,0H-0.1M0.1,0H1M0.1,0A0.1,0.1,0,1,1,-0.1,0A0.1,0.1,0,1,1,0.1,0' : 'M-1,0H1'"}, "fill": {"value": "transparent"}}}}}},
              "strokeDash": {"field": "series", "type": "nominal", "scale": {"domain": ["Terrell (1996)", "OC (2005)", "this paper"], "range": [[1, 0], [16, 10], [1, 0]]},
                "legend": {"title": null, "orient": "none", "legendX": 608.5, "legendY": 24.7, "labelFontSize": 24, "symbolSize": 6241, "symbolStrokeWidth": 1.4, "labelOffset": 6, "rowPadding": 8, "clipHeight": 24, "padding": 0, "symbolType": "M-1,0H1", "encode": {"symbols": {"update": {"shape": {"signal": "datum.value === 'this paper' ? 'M-1,0H-0.1M0.1,0H1M0.1,0A0.1,0.1,0,1,1,-0.1,0A0.1,0.1,0,1,1,0.1,0' : 'M-1,0H1'"}, "fill": {"value": "transparent"}}}}}}
            }
          },
          {
            "transform": [{"filter": "datum.series === 'this paper'"}],
            "mark": {"type": "point", "shape": "circle", "filled": false, "size": 50, "strokeWidth": 1.1, "color": "#EDB120", "opacity": 1},
            "encoding": {
              "x": {"field": "gcd", "type": "quantitative", "axis": {"orient": "top", "values": [0.5, 1, 1.5, 2, 2.5, 3], "labels": false, "title": null, "tickSize": -9}},
              "y": {"field": "density", "type": "quantitative", "axis": {"orient": "right", "values": [0, 0.5, 1, 1.5, 2, 2.5, 3], "labels": false, "title": null, "tickSize": -9}}
            }
          }
        ]
      }
    ],
    "spacing": 0,
    "resolve": {"scale": {"x": "independent", "y": "independent", "color": "independent", "strokeDash": "independent"}}
  },
  {
    "concat": [
      {
        "hconcat": [
          {"width": 240.5, "height": 1, "data": {"values": [{"k": 0}]}, "mark": {"type": "point", "opacity": 0, "size": 1}, "view": {"stroke": null}},
          {
            "width": 439, "height": 346,
            "title": {"text": "(b) technical inefficiency", "fontSize": 14.3, "offset": -3.5},
            "data": {"name": "b"},
            "resolve": {"axis": {"x": "independent", "y": "independent"}},
            "layer": [
              {
                "mark": {"type": "line", "strokeWidth": 1, "interpolate": "monotone"},
                "encoding": {
                  "x": {"field": "gcd", "type": "quantitative", "scale": {"domain": [0.6, 2.6], "nice": false, "zero": false}, "axis": {"values": [0.6, 0.8, 1, 1.2, 1.4, 1.6, 1.8, 2, 2.2, 2.4, 2.6], "format": "~g", "title": "GCD", "labelFontSize": 13, "titleFontSize": 14.3, "tickSize": -5, "labelPadding": 13.6, "titlePadding": 4}},
                  "y": {"field": "density", "type": "quantitative", "scale": {"domain": [0, 3], "nice": false, "zero": false}, "axis": {"values": [0, 0.5, 1, 1.5, 2, 2.5, 3], "format": "~g", "title": "density", "labelFontSize": 13, "titleFontSize": 14.3, "tickSize": -5, "labelPadding": 11, "titlePadding": 5}},
                  "color": {"field": "series", "type": "nominal", "scale": {"domain": ["Terrell (1996)", "OC (2005)", "this paper"], "range": ["#0072BD", "#D95319", "#EDB120"]},
                    "legend": {"title": null, "orient": "none", "legendX": 308, "legendY": 13.5, "labelFontSize": 12, "symbolSize": 1521, "symbolStrokeWidth": 1, "labelOffset": 3, "rowPadding": 4.5, "clipHeight": 12, "padding": 0, "symbolType": "M-1,0H1", "encode": {"symbols": {"update": {"shape": {"signal": "datum.value === 'this paper' ? 'M-1,0H-0.1M0.1,0H1M0.1,0A0.1,0.1,0,1,1,-0.1,0A0.1,0.1,0,1,1,0.1,0' : 'M-1,0H1'"}, "fill": {"value": "transparent"}}}}}},
                  "strokeDash": {"field": "series", "type": "nominal", "scale": {"domain": ["Terrell (1996)", "OC (2005)", "this paper"], "range": [[1, 0], [8, 5], [1, 0]]},
                    "legend": {"title": null, "orient": "none", "legendX": 308, "legendY": 13.5, "labelFontSize": 12, "symbolSize": 1521, "symbolStrokeWidth": 1, "labelOffset": 3, "rowPadding": 4.5, "clipHeight": 12, "padding": 0, "symbolType": "M-1,0H1", "encode": {"symbols": {"update": {"shape": {"signal": "datum.value === 'this paper' ? 'M-1,0H-0.1M0.1,0H1M0.1,0A0.1,0.1,0,1,1,-0.1,0A0.1,0.1,0,1,1,0.1,0' : 'M-1,0H1'"}, "fill": {"value": "transparent"}}}}}}
                }
              },
              {
                "transform": [{"filter": "datum.series === 'this paper'"}],
                "mark": {"type": "point", "shape": "circle", "filled": false, "size": 13, "strokeWidth": 0.9, "color": "#EDB120", "opacity": 1},
                "encoding": {
                  "x": {"field": "gcd", "type": "quantitative", "axis": {"orient": "top", "values": [0.6, 0.8, 1, 1.2, 1.4, 1.6, 1.8, 2, 2.2, 2.4, 2.6], "labels": false, "title": null, "tickSize": -5}},
                  "y": {"field": "density", "type": "quantitative", "axis": {"orient": "right", "values": [0, 0.5, 1, 1.5, 2, 2.5, 3], "labels": false, "title": null, "tickSize": -5}}
                }
              }
            ]
          }
        ],
        "spacing": 0,
        "resolve": {"scale": {"x": "independent", "y": "independent", "color": "independent", "strokeDash": "independent"}}
      },
      {
        "hconcat": [
          {"width": 1, "height": 1, "data": {"values": [{"k": 0}]}, "mark": {"type": "point", "opacity": 0, "size": 1}, "view": {"stroke": null}},
          {
            "width": 434.6, "height": 342.3,
            "title": {"text": "(c) scale parameters", "fontSize": 14.3, "offset": -3.5},
            "data": {"name": "c"},
            "resolve": {"axis": {"x": "independent", "y": "independent"}},
            "layer": [
              {
                "mark": {"type": "line", "strokeWidth": 1, "interpolate": "monotone"},
                "encoding": {
                  "x": {"field": "gcd", "type": "quantitative", "scale": {"domain": [0.8, 2.8], "nice": false, "zero": false}, "axis": {"values": [0.8, 1, 1.2, 1.4, 1.6, 1.8, 2, 2.2, 2.4, 2.6, 2.8], "format": "~g", "title": "GCD", "labelFontSize": 13, "titleFontSize": 14.3, "tickSize": -5, "labelPadding": 13.6, "titlePadding": 4}},
                  "y": {"field": "density", "type": "quantitative", "scale": {"domain": [0, 4], "nice": false, "zero": false}, "axis": {"values": [0, 0.5, 1, 1.5, 2, 2.5, 3, 3.5, 4], "format": "~g", "title": "density", "labelFontSize": 13, "titleFontSize": 14.3, "tickSize": -5, "labelPadding": 11, "titlePadding": 5}},
                  "color": {"field": "series", "type": "nominal", "scale": {"domain": ["Terrell (1996)", "OC (2005)", "this paper"], "range": ["#0072BD", "#D95319", "#EDB120"]},
                    "legend": {"title": null, "orient": "none", "legendX": 304, "legendY": 11.7, "labelFontSize": 12, "symbolSize": 1600, "symbolStrokeWidth": 1, "labelOffset": 3, "rowPadding": 4.7, "clipHeight": 12, "padding": 0, "symbolType": "M-1,0H1", "encode": {"symbols": {"update": {"shape": {"signal": "datum.value === 'this paper' ? 'M-1,0H-0.1M0.1,0H1M0.1,0A0.1,0.1,0,1,1,-0.1,0A0.1,0.1,0,1,1,0.1,0' : 'M-1,0H1'"}, "fill": {"value": "transparent"}}}}}},
                  "strokeDash": {"field": "series", "type": "nominal", "scale": {"domain": ["Terrell (1996)", "OC (2005)", "this paper"], "range": [[1, 0], [8, 5], [1, 0]]},
                    "legend": {"title": null, "orient": "none", "legendX": 304, "legendY": 11.7, "labelFontSize": 12, "symbolSize": 1600, "symbolStrokeWidth": 1, "labelOffset": 3, "rowPadding": 4.7, "clipHeight": 12, "padding": 0, "symbolType": "M-1,0H1", "encode": {"symbols": {"update": {"shape": {"signal": "datum.value === 'this paper' ? 'M-1,0H-0.1M0.1,0H1M0.1,0A0.1,0.1,0,1,1,-0.1,0A0.1,0.1,0,1,1,0.1,0' : 'M-1,0H1'"}, "fill": {"value": "transparent"}}}}}}
                }
              },
              {
                "transform": [{"filter": "datum.series === 'this paper'"}],
                "mark": {"type": "point", "shape": "circle", "filled": false, "size": 13, "strokeWidth": 0.9, "color": "#EDB120", "opacity": 1},
                "encoding": {
                  "x": {"field": "gcd", "type": "quantitative", "axis": {"orient": "top", "values": [0.8, 1, 1.2, 1.4, 1.6, 1.8, 2, 2.2, 2.4, 2.6, 2.8], "labels": false, "title": null, "tickSize": -5}},
                  "y": {"field": "density", "type": "quantitative", "axis": {"orient": "right", "values": [0, 0.5, 1, 1.5, 2, 2.5, 3, 3.5, 4], "labels": false, "title": null, "tickSize": -5}}
                }
              }
            ]
          },
          {
            "width": 434.6, "height": 342.3,
            "title": {"text": "(d) constraint latent variables", "fontSize": 14.3, "offset": -3.5},
            "data": {"name": "d"},
            "resolve": {"axis": {"x": "independent", "y": "independent"}},
            "layer": [
              {
                "mark": {"type": "line", "strokeWidth": 1, "interpolate": "monotone", "color": "#0072BD"},
                "encoding": {
                  "x": {"field": "gcd", "type": "quantitative", "scale": {"domain": [0.3, 1.3], "nice": false, "zero": false}, "axis": {"values": [0.3, 0.4, 0.5, 0.6, 0.7, 0.8, 0.9, 1, 1.1, 1.2, 1.3], "format": "~g", "title": "GCD", "labelFontSize": 13, "titleFontSize": 14.3, "tickSize": -5, "labelPadding": 13.6, "titlePadding": 4}},
                  "y": {"field": "density", "type": "quantitative", "scale": {"domain": [0, 3.5], "nice": false, "zero": false}, "axis": {"values": [0, 0.5, 1, 1.5, 2, 2.5, 3, 3.5], "format": "~g", "title": "density", "labelFontSize": 13, "titleFontSize": 14.3, "tickSize": -5, "labelPadding": 11, "titlePadding": 5}}
                }
              },
              {
                "mark": {"type": "line", "opacity": 0},
                "encoding": {
                  "x": {"field": "gcd", "type": "quantitative", "axis": {"orient": "top", "values": [0.3, 0.4, 0.5, 0.6, 0.7, 0.8, 0.9, 1, 1.1, 1.2, 1.3], "labels": false, "title": null, "tickSize": -5}},
                  "y": {"field": "density", "type": "quantitative", "axis": {"orient": "right", "values": [0, 0.5, 1, 1.5, 2, 2.5, 3, 3.5], "labels": false, "title": null, "tickSize": -5}}
                }
              }
            ]
          }
        ],
        "spacing": 5.4,
        "resolve": {"scale": {"x": "independent", "y": "independent", "color": "independent", "strokeDash": "independent"}}
      }
    ],
    "columns": 1,
    "align": "none",
    "spacing": -3.6,
    "resolve": {"scale": {"x": "independent", "y": "independent", "color": "independent", "strokeDash": "independent"}}
  }
]
}
